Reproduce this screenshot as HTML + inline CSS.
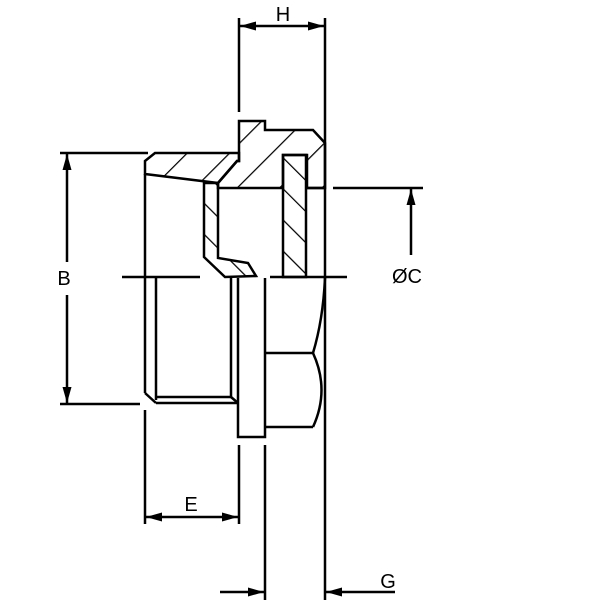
<!DOCTYPE html>
<html><head><style>body{margin:0;background:#fff}svg{display:block}</style></head><body>
<svg width="600" height="600" viewBox="0 0 600 600" xmlns="http://www.w3.org/2000/svg">
<defs>
<pattern id="h1" patternUnits="userSpaceOnUse" width="30" height="30" patternTransform="rotate(45)"><line x1="0" y1="0" x2="0" y2="30" stroke="#000" stroke-width="2.5"/></pattern>
<pattern id="h2" patternUnits="userSpaceOnUse" width="22" height="22" patternTransform="rotate(-45)"><line x1="0" y1="0" x2="0" y2="22" stroke="#000" stroke-width="2.5"/></pattern>
<marker id="a" markerWidth="16" markerHeight="9" refX="16" refY="4.5" orient="auto" markerUnits="userSpaceOnUse"><path d="M0,0 L16,4.5 L0,9 Z" fill="#000"/></marker>
</defs>
<g fill="none" stroke="#000" stroke-width="2.5" stroke-linejoin="miter">
<polygon fill="url(#h1)" points="239,121 265,121 265,130 313,130 325,143 325,188 307,188 307,155 283,155 283,188 218,188 218,183 237,161 239,161"/>
<polygon fill="url(#h1)" points="155,153 239,153 239,161 237,161 218,183 145,174 145,161"/>
<polygon fill="url(#h2)" points="283,155 306,155 306,277 283,277"/>
<polygon fill="url(#h2)" points="204,183 218,183 218,258 248,263 256,276 225,277 204,257"/>
<line x1="145" y1="174" x2="145" y2="393"/>
<line x1="156" y1="278" x2="156" y2="400"/>
<line x1="145" y1="393" x2="156" y2="403"/>
<line x1="156" y1="403" x2="237" y2="403"/>
<line x1="156" y1="397" x2="231" y2="397"/>
<line x1="231" y1="278" x2="231" y2="397"/>
<line x1="231" y1="397" x2="238" y2="403"/>
<polyline points="238,278 238,437 265,437 265,278"/>
<line x1="265" y1="353" x2="313" y2="353"/>
<line x1="265" y1="427" x2="313" y2="427"/>
<path d="M313,353 Q323,320 325,278"/>
<path d="M313,353 Q330,390 313,427"/>
<line x1="325" y1="143" x2="325" y2="600"/>
<line x1="122" y1="277" x2="200" y2="277"/>
<line x1="270" y1="277" x2="347" y2="277"/>
<line x1="307" y1="188" x2="325" y2="188"/>
<line x1="239" y1="18" x2="239" y2="112"/>
<line x1="325" y1="18" x2="325" y2="143"/>
<line x1="282" y1="26" x2="240" y2="26" marker-end="url(#a)"/>
<line x1="282" y1="26" x2="324" y2="26" marker-end="url(#a)"/>
<line x1="60" y1="153" x2="148" y2="153"/>
<line x1="60" y1="404" x2="140" y2="404"/>
<line x1="67" y1="262" x2="67" y2="154" marker-end="url(#a)"/>
<line x1="67" y1="295" x2="67" y2="403" marker-end="url(#a)"/>
<line x1="333" y1="188" x2="423" y2="188"/>
<line x1="411" y1="255" x2="411" y2="189" marker-end="url(#a)"/>
<line x1="145" y1="410" x2="145" y2="524"/>
<line x1="239" y1="445" x2="239" y2="524"/>
<line x1="192" y1="517" x2="146" y2="517" marker-end="url(#a)"/>
<line x1="192" y1="517" x2="238" y2="517" marker-end="url(#a)"/>
<line x1="265" y1="445" x2="265" y2="600"/>
<line x1="220" y1="592" x2="264" y2="592" marker-end="url(#a)"/>
<line x1="395" y1="592" x2="326" y2="592" marker-end="url(#a)"/>
</g>
<g font-family="Liberation Sans, sans-serif" font-size="20" text-anchor="middle">
<text x="283" y="21">H</text>
<text x="64" y="285">B</text>
<text x="407" y="283">ØC</text>
<text x="191" y="511">E</text>
<text x="388" y="588">G</text>
</g>
</svg>
</body></html>
